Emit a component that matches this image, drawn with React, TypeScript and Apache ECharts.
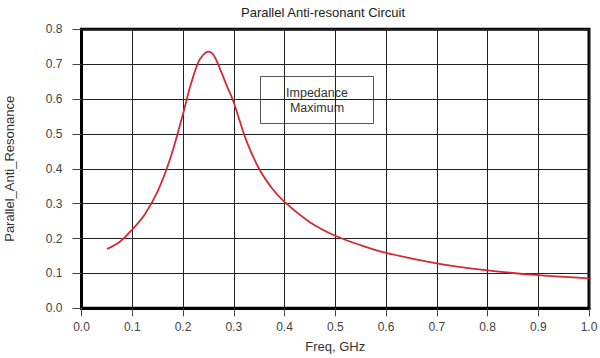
import React, { useEffect, useRef } from "react";
import * as echarts from "echarts";

const freq = [0.05, 0.075, 0.1, 0.125, 0.15, 0.175, 0.2, 0.215, 0.23, 0.24, 0.25, 0.258, 0.265, 0.285, 0.3, 0.325, 0.35, 0.375, 0.4, 0.45, 0.5, 0.55, 0.6, 0.7, 0.8, 0.9, 1.0];
const impedance = [0.17, 0.19, 0.226, 0.27, 0.335, 0.43, 0.557, 0.64, 0.705, 0.727, 0.736, 0.73, 0.714, 0.643, 0.59, 0.48, 0.4, 0.345, 0.305, 0.247, 0.208, 0.181, 0.159, 0.129, 0.109, 0.095, 0.086];

const title = "Parallel Anti-resonant Circuit";
const xName = "Freq, GHz";
const yName = "Parallel_Anti_Resonance";
const noteLines = ["Impedance", "Maximum"];

const FONT = "'Liberation Sans', Arial, sans-serif";

export default function App() {
  const ref = useRef<HTMLDivElement>(null);
  useEffect(() => {
    if (!ref.current) return;
    const chart = echarts.init(ref.current, undefined, { renderer: "svg" });
    chart.setOption({
      animation: false,
      backgroundColor: "#fff",
      title: {
        text: title,
        left: 318,
        textAlign: "center",
        top: 1,
        textStyle: { fontFamily: FONT, fontSize: 13, fontWeight: "normal", color: "#222" },
      },
      grid: {
        left: 81.5,
        right: 11,
        top: 29.3,
        bottom: 49.7,
        show: true,
        borderColor: "#000",
        borderWidth: 3,
        backgroundColor: "#fff",
        containLabel: false,
        outerBoundsMode: "none",
      },
      xAxis: {
        type: "value",
        min: 0,
        max: 1,
        interval: 0.1,
        name: xName,
        nameLocation: "middle",
        nameGap: 32,
        nameTextStyle: { fontFamily: FONT, fontSize: 13, color: "#333" },
        axisLine: { show: true, lineStyle: { color: "#000", width: 3 } },
        axisTick: { show: true, length: 8, lineStyle: { color: "#444", width: 1 } },
        axisLabel: {
          fontFamily: FONT,
          fontSize: 12,
          color: "#444",
          margin: 13,
          formatter: (v: number) => v.toFixed(1),
        },
        splitLine: { show: true, lineStyle: { color: "#222", width: 1 } },
      },
      yAxis: {
        type: "value",
        min: 0,
        max: 0.8,
        interval: 0.1,
        name: yName,
        nameLocation: "middle",
        nameGap: 66,
        nameTextStyle: { fontFamily: FONT, fontSize: 13, color: "#333" },
        axisLine: { show: true, lineStyle: { color: "#000", width: 3 } },
        axisTick: { show: true, length: 9, lineStyle: { color: "#444", width: 1 } },
        axisLabel: {
          fontFamily: FONT,
          fontSize: 12,
          color: "#444",
          margin: 19,
          formatter: (v: number) => v.toFixed(1),
        },
        splitLine: { show: true, lineStyle: { color: "#222", width: 1 } },
      },
      series: [
        {
          type: "line",
          data: freq.map((f, i) => [f, impedance[i]]),
          smooth: 0.35,
          showSymbol: false,
          lineStyle: { color: "#d42a35", width: 1.8 },
          z: 5,
        },
      ],
      graphic: [
        {
          type: "group",
          left: 260,
          top: 76,
          z: 10,
          children: [
            {
              type: "rect",
              shape: { x: 0, y: 0, width: 113, height: 47 },
              style: { fill: "#fff", stroke: "#555", lineWidth: 1 },
            },
            {
              type: "text",
              x: 56.5,
              y: 23.5,
              style: {
                text: noteLines.join("\n"),
                fontFamily: FONT,
                fontSize: 12.5,
                lineHeight: 15,
                fill: "#333",
                align: "center",
                verticalAlign: "middle",
              },
            },
          ],
        },
      ],
    });
    return () => chart.dispose();
  }, []);
  return <div ref={ref} style={{ width: 600, height: 358, position: "absolute", left: 0, top: 0 }} />;
}
